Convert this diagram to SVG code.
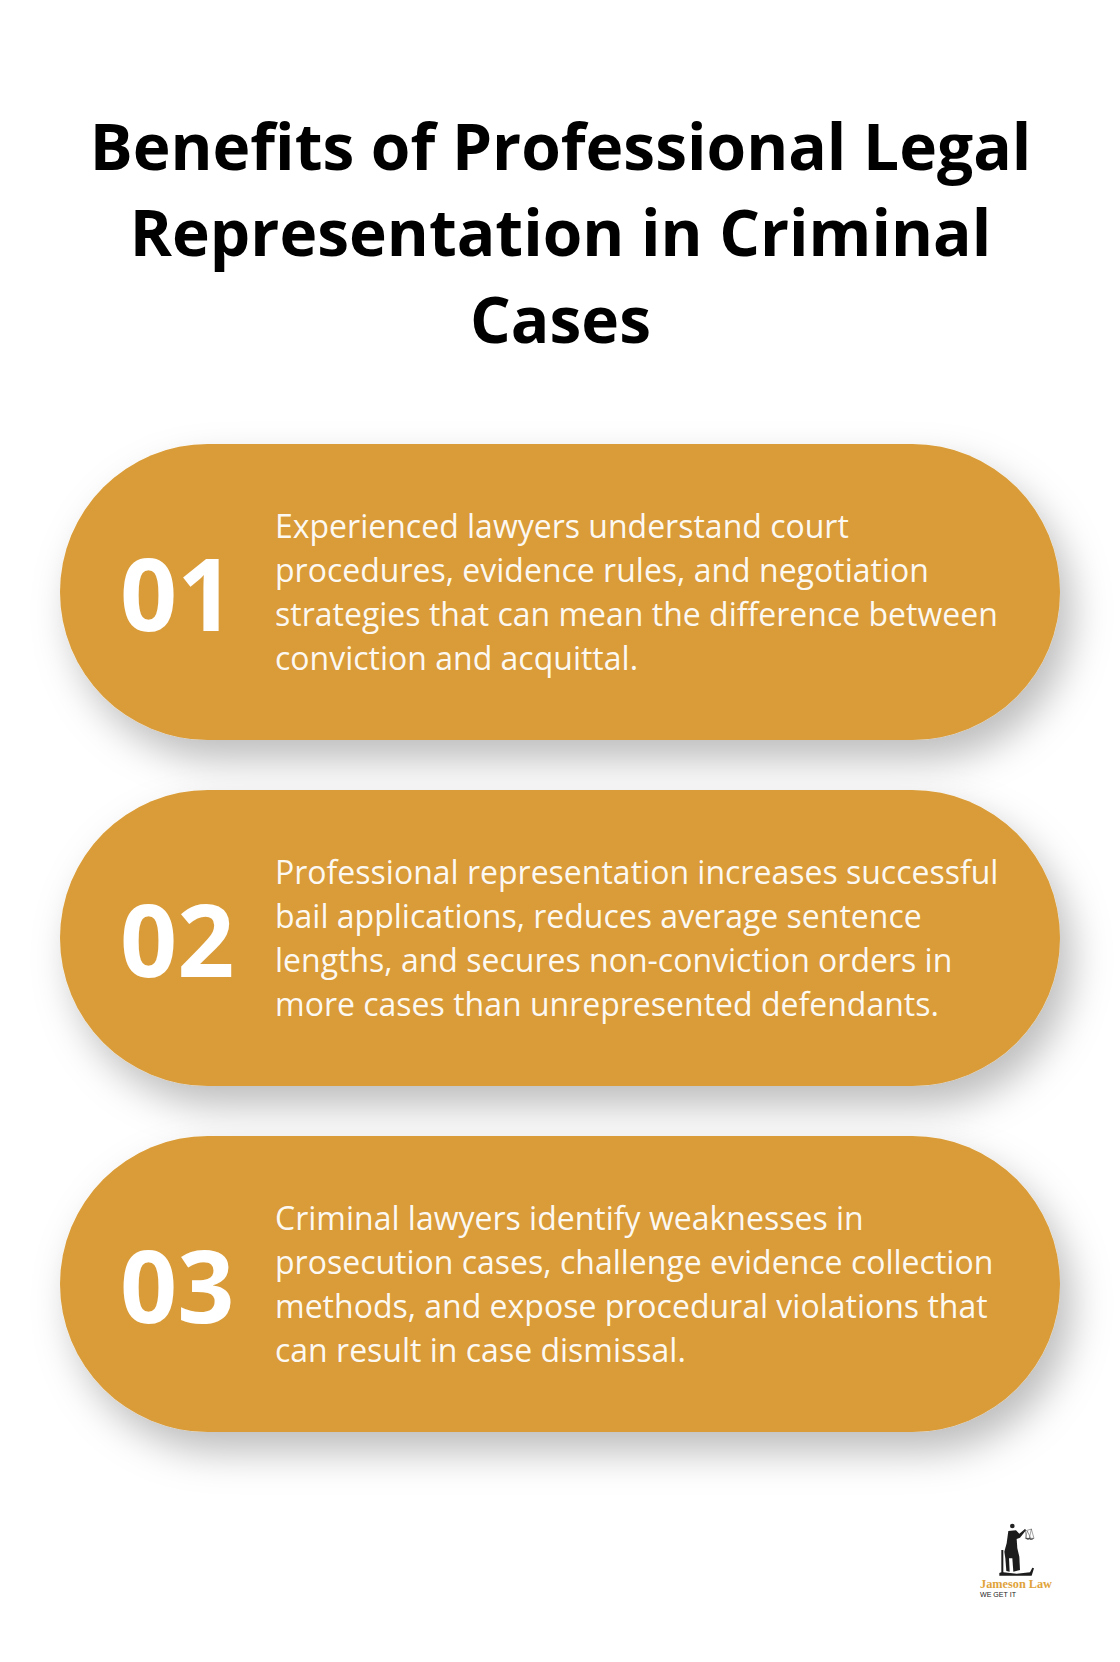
<svg xmlns="http://www.w3.org/2000/svg" width="1120" height="1662" viewBox="0 0 1120 1662">
<defs><filter id="s" x="-10%" y="-30%" width="125%" height="170%"><feDropShadow dx="12" dy="20" stdDeviation="19" flood-color="#000" flood-opacity="0.26"/></filter>
<filter id="soft" x="-10%" y="-10%" width="120%" height="120%"><feGaussianBlur stdDeviation="0.3"/></filter></defs>
<style>
.t{font-family:"Open Sans",sans-serif;font-weight:700;font-size:64px;fill:#000;text-anchor:middle}
.n{font-family:"Open Sans",sans-serif;font-weight:700;font-size:100px;fill:#fff}
.b{font-family:"Open Sans",sans-serif;font-size:32px;fill:#fff;fill-opacity:.96}
.p{fill:#da9c37;filter:url(#s)}
</style>
<rect width="1120" height="1662" fill="#fff"/>
<g id="title"><text class="t" x="560.5" y="170">Benefits of Professional Legal</text><text class="t" x="560.5" y="256">Representation in Criminal</text><text class="t" x="560.5" y="343">Cases</text></g>
<g id="node-01"><rect class="p" x="60" y="444" width="1000" height="296" rx="148"/><text class="n" x="120" y="631">01</text>
<text class="b" x="275" y="538.200">Experienced lawyers understand court</text><text class="b" x="275" y="582.200">procedures, evidence rules, and negotiation</text><text class="b" x="275" y="626.200">strategies that can mean the difference between</text><text class="b" x="275" y="670.200">conviction and acquittal.</text></g>
<g id="node-02"><rect class="p" x="60" y="790" width="1000" height="296" rx="148"/><text class="n" x="120" y="977">02</text>
<text class="b" x="275" y="884.200">Professional representation increases successful</text><text class="b" x="275" y="928.200">bail applications, reduces average sentence</text><text class="b" x="275" y="972.200">lengths, and secures non-conviction orders in</text><text class="b" x="275" y="1016.200">more cases than unrepresented defendants.</text></g>
<g id="node-03"><rect class="p" x="60" y="1136" width="1000" height="296" rx="148"/><text class="n" x="120" y="1323">03</text>
<text class="b" x="275" y="1230.200">Criminal lawyers identify weaknesses in</text><text class="b" x="275" y="1274.200">prosecution cases, challenge evidence collection</text><text class="b" x="275" y="1318.200">methods, and expose procedural violations that</text><text class="b" x="275" y="1362.200">can result in case dismissal.</text></g>
<g id="logo">
<g transform="translate(980 1515) scale(.3333)" filter="url(#soft)">
<circle cx="97" cy="33" r="7" fill="#222"/>
<path d="M85 48 L108 46 L118 56 L135 42 L138 46 L120 68 L110 72 L112 100 L118 125 L120 165 L100 170 L97 130 L87 130 L89 170 L79 168 L76 130 L73 110 L80 85 Z" fill="#1c1c1c"/>
<path d="M64 105 L70 105 L70 172 L110 176 L150 172 L157 158 L162 160 L155 182 L58 182 L58 174 L64 172 Z" fill="#1c1c1c"/>
<path d="M128 50 L155 42 M135 42 L140 72 M142 48 L136 70 L152 70 Z M154 42 L148 70 L162 70 Z" fill="none" stroke="#444" stroke-width="1.500"/>
<path d="M136 70 Q144 78 152 70 Z M148 72 Q155 78 162 70 Z" fill="#333"/>
</g>
<text x="980" y="1588" font-family="'Liberation Serif',serif" font-weight="700" font-size="12" fill="#e0a33a" textLength="72" lengthAdjust="spacingAndGlyphs">Jameson Law</text>
<text x="980" y="1597" font-family="'Liberation Sans',sans-serif" font-size="7.500" fill="#222" textLength="36" lengthAdjust="spacingAndGlyphs">WE GET IT</text>
</g>
<g id="connectors"></g>
</svg>
